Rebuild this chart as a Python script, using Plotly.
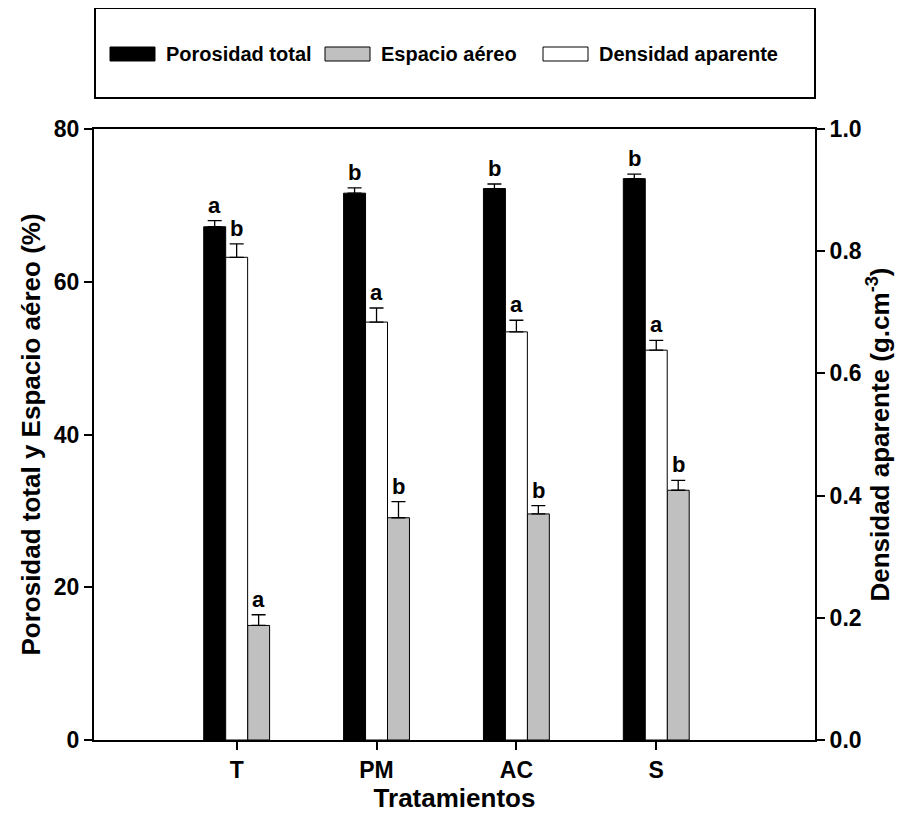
import plotly.graph_objects as go

categories = ["T", "PM", "AC", "S"]
porosidad = [67.2, 71.6, 72.2, 73.5]
porosidad_err = [0.8, 0.7, 0.6, 0.6]
porosidad_let = ["a", "b", "b", "b"]
espacio = [15.0, 29.1, 29.6, 32.7]
espacio_err = [1.4, 2.1, 1.1, 1.3]
espacio_let = ["a", "b", "b", "b"]
densidad = [0.790, 0.684, 0.668, 0.638]
densidad_err = [0.022, 0.023, 0.019, 0.016]
densidad_let = ["b", "a", "a", "a"]

# page has an 8px body margin: work in page pixels, convert to figure pixels
OFF = 8
W, H = 911 - OFF, 835 - OFF
L, R, T, B = 94, 815, 129, 740          # plot area in page pixels
FONT = "Liberation Sans, Arial, sans-serif"
xi = list(range(len(categories)))
bw = 0.157

def px(x):
    return (x - L) / (R - L)

def py(y):
    return (B - y) / (B - T)

fig = go.Figure()
err_style = dict(type="data", symmetric=False, color="black", thickness=1.3, width=7)

fig.add_trace(go.Bar(x=xi, y=porosidad, width=bw, offset=-1.5 * bw, name="Porosidad total",
                     marker=dict(color="black", line=dict(color="black", width=1)),
                     error_y=dict(array=porosidad_err, arrayminus=[0] * 4, **err_style),
                     yaxis="y", showlegend=False))
fig.add_trace(go.Bar(x=xi, y=espacio, width=bw, offset=0.5 * bw, name="Espacio aéreo",
                     marker=dict(color="#C0C0C0", line=dict(color="black", width=1)),
                     error_y=dict(array=espacio_err, arrayminus=[0] * 4, **err_style),
                     yaxis="y", showlegend=False))
fig.add_trace(go.Bar(x=xi, y=densidad, width=bw, offset=-0.5 * bw, name="Densidad aparente",
                     marker=dict(color="white", line=dict(color="black", width=1)),
                     error_y=dict(array=densidad_err, arrayminus=[0] * 4, **err_style),
                     yaxis="y2", showlegend=False))

let_font = dict(family=FONT, size=22, color="black", weight="bold")
annotations = []
for i in xi:
    annotations.append(dict(x=i - bw, y=porosidad[i] + porosidad_err[i], xref="x", yref="y",
                            text=porosidad_let[i], showarrow=False, yanchor="bottom", yshift=1,
                            font=let_font))
    annotations.append(dict(x=i + bw, y=espacio[i] + espacio_err[i], xref="x", yref="y",
                            text=espacio_let[i], showarrow=False, yanchor="bottom", yshift=1,
                            font=let_font))
    annotations.append(dict(x=i, y=densidad[i] + densidad_err[i], xref="x", yref="y2",
                            text=densidad_let[i], showarrow=False, yanchor="bottom", yshift=1,
                            font=let_font))

# legend drawn as a framed box above the plot
shapes = [dict(type="rect", xref="paper", yref="paper", x0=px(95), x1=px(815), y0=py(98), y1=py(8),
               line=dict(color="black", width=2), fillcolor="rgba(0,0,0,0)")]
leg = [("Porosidad total", "black", 110, 164), ("Espacio aéreo", "#C0C0C0", 325, 379),
       ("Densidad aparente", "white", 543, 597)]
for name, col, sx, tx in leg:
    shapes.append(dict(type="rect", xref="paper", yref="paper", x0=px(sx), x1=px(sx + 45),
                       y0=py(61), y1=py(47), line=dict(color="black", width=1), fillcolor=col))
    annotations.append(dict(x=px(tx), y=py(54), xref="paper", yref="paper", text=name,
                            showarrow=False, xanchor="left", yanchor="middle",
                            font=dict(family=FONT, size=20, color="black", weight="bold")))

tick_font = dict(family=FONT, size=23, color="black", weight="bold")
title_font = dict(family=FONT, size=26, color="black", weight="bold")
fig.update_layout(
    width=W, height=H,
    margin=dict(l=L - OFF, r=W - (R - OFF), t=T - OFF, b=H - (B - OFF)),
    paper_bgcolor="white", plot_bgcolor="white",
    barmode="overlay",
    showlegend=False,
    font=dict(family=FONT, color="black"),
    xaxis=dict(range=[-1.02, 4.135], tickvals=xi, ticktext=categories, ticks="outside",
               ticklen=8, tickwidth=2, tickcolor="black", showline=True, linecolor="black",
               linewidth=2, mirror=True, showgrid=False, zeroline=False, tickfont=tick_font,
               title=dict(text="Tratamientos", font=title_font, standoff=3)),
    yaxis=dict(range=[0, 80], tickvals=[0, 20, 40, 60, 80], ticks="outside", ticklen=8,
               tickwidth=2, tickcolor="black", showline=True, linecolor="black", linewidth=2,
               showgrid=False, zeroline=False, tickfont=tick_font,
               title=dict(text="Porosidad total y Espacio aéreo (%)", font=title_font, standoff=6)),
    yaxis2=dict(range=[0, 1.0], tickvals=[0, 0.2, 0.4, 0.6, 0.8, 1.0], tickformat=".1f",
                overlaying="y", side="right", ticks="outside", ticklen=8, tickwidth=2,
                tickcolor="black", showline=True, linecolor="black", linewidth=2,
                showgrid=False, zeroline=False, tickfont=tick_font,
                title=dict(text="Densidad aparente (g.cm<sup>-3</sup>)", font=title_font, standoff=10)),
    annotations=annotations,
    shapes=shapes,
)

fig.write_html("out.html")
